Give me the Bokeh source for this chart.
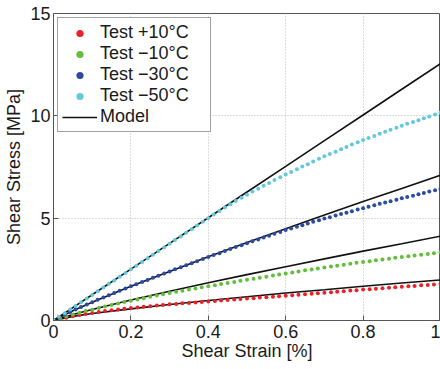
from bokeh.plotting import figure
from bokeh.models import FixedTicker, Legend, LegendItem, Range1d
from bokeh.embed import file_html
from bokeh.resources import INLINE

# ---- data ----
strain_a = [0.000, 0.014, 0.029, 0.043, 0.057, 0.071, 0.086, 0.100, 0.114, 0.129, 0.143, 0.157,
            0.171, 0.186, 0.200, 0.214, 0.229, 0.243, 0.257, 0.271, 0.286, 0.300, 0.314, 0.329,
            0.343, 0.357, 0.371, 0.386, 0.400, 0.414, 0.429, 0.443, 0.457, 0.471, 0.486, 0.500,
            0.514, 0.529, 0.543, 0.557, 0.571, 0.586, 0.600, 0.614, 0.629, 0.643, 0.657, 0.671,
            0.686, 0.700, 0.714, 0.729, 0.743, 0.757, 0.771, 0.786, 0.800, 0.814, 0.829, 0.843,
            0.857, 0.871, 0.886, 0.900, 0.914, 0.929, 0.943, 0.957, 0.971, 0.986, 1.000]
stress_m50 = [0.00, 0.18, 0.36, 0.54, 0.71, 0.89, 1.07, 1.25, 1.43, 1.61, 1.79, 1.96,
              2.14, 2.32, 2.50, 2.68, 2.86, 3.04, 3.21, 3.39, 3.57, 3.75, 3.93, 4.11,
              4.29, 4.46, 4.64, 4.82, 5.00, 5.18, 5.35, 5.52, 5.68, 5.84, 6.00, 6.15,
              6.30, 6.44, 6.58, 6.72, 6.86, 7.00, 7.13, 7.26, 7.39, 7.52, 7.64, 7.77,
              7.90, 8.02, 8.14, 8.25, 8.37, 8.48, 8.60, 8.71, 8.82, 8.92, 9.02, 9.12,
              9.22, 9.32, 9.42, 9.52, 9.61, 9.70, 9.79, 9.88, 9.97, 10.06, 10.15]
stress_m30 = [0.00, 0.16, 0.29, 0.42, 0.54, 0.66, 0.78, 0.89, 1.01, 1.12, 1.23, 1.34,
              1.45, 1.56, 1.67, 1.77, 1.88, 1.98, 2.09, 2.19, 2.30, 2.40, 2.50, 2.60,
              2.70, 2.80, 2.90, 3.00, 3.10, 3.20, 3.29, 3.39, 3.49, 3.59, 3.68, 3.78,
              3.87, 3.96, 4.05, 4.14, 4.24, 4.33, 4.42, 4.50, 4.58, 4.66, 4.74, 4.82,
              4.90, 4.98, 5.05, 5.13, 5.20, 5.27, 5.34, 5.42, 5.49, 5.56, 5.63, 5.70,
              5.76, 5.83, 5.90, 5.97, 6.04, 6.10, 6.17, 6.23, 6.30, 6.36, 6.43]
strain_b = [0.000, 0.017, 0.033, 0.050, 0.067, 0.083, 0.100, 0.117, 0.133, 0.150, 0.167, 0.183,
            0.200, 0.217, 0.233, 0.250, 0.267, 0.283, 0.300, 0.317, 0.333, 0.350, 0.367, 0.383,
            0.400, 0.417, 0.433, 0.450, 0.467, 0.483, 0.500, 0.517, 0.533, 0.550, 0.567, 0.583,
            0.600, 0.617, 0.633, 0.650, 0.667, 0.683, 0.700, 0.717, 0.733, 0.750, 0.767, 0.783,
            0.800, 0.817, 0.833, 0.850, 0.867, 0.883, 0.900, 0.917, 0.933, 0.950, 0.967, 0.983,
            1.000]
stress_m10 = [0.00, 0.11, 0.21, 0.29, 0.38, 0.46, 0.53, 0.61, 0.69, 0.76, 0.83, 0.90,
              0.97, 1.03, 1.09, 1.16, 1.22, 1.28, 1.34, 1.40, 1.45, 1.51, 1.56, 1.62,
              1.67, 1.72, 1.78, 1.83, 1.88, 1.94, 1.99, 2.04, 2.09, 2.14, 2.20, 2.25,
              2.30, 2.35, 2.40, 2.45, 2.49, 2.54, 2.59, 2.64, 2.68, 2.73, 2.77, 2.82,
              2.86, 2.90, 2.94, 2.98, 3.02, 3.06, 3.10, 3.14, 3.18, 3.21, 3.25, 3.29,
              3.33]
stress_p10 = [0.00, 0.07, 0.14, 0.21, 0.27, 0.32, 0.37, 0.42, 0.46, 0.50, 0.54, 0.58,
              0.61, 0.64, 0.67, 0.70, 0.73, 0.76, 0.79, 0.81, 0.84, 0.86, 0.88, 0.91,
              0.93, 0.95, 0.98, 1.00, 1.02, 1.05, 1.07, 1.09, 1.12, 1.14, 1.16, 1.19,
              1.21, 1.23, 1.26, 1.28, 1.31, 1.33, 1.36, 1.38, 1.41, 1.43, 1.46, 1.48,
              1.51, 1.53, 1.55, 1.58, 1.60, 1.62, 1.65, 1.67, 1.69, 1.72, 1.74, 1.76,
              1.79]
model_strain = [0, 0.05, 0.1, 0.2, 0.3, 0.4, 0.5, 0.6, 0.7, 0.8, 0.9, 1.0]
model_m50 = [0, 0.63, 1.26, 2.51, 3.77, 5.02, 6.28, 7.53, 8.79, 10.04, 11.30, 12.55]
model_m30 = [0, 0.48, 0.89, 1.67, 2.40, 3.11, 3.81, 4.48, 5.15, 5.81, 6.45, 7.10]
model_m10 = [0, 0.29, 0.54, 1.00, 1.43, 1.84, 2.24, 2.63, 3.01, 3.39, 3.75, 4.12]
model_p10 = [0, 0.20, 0.34, 0.57, 0.78, 0.98, 1.16, 1.34, 1.50, 1.67, 1.83, 1.98]

series_labels = ["Test +10\u00b0C", "Test \u221210\u00b0C", "Test \u221230\u00b0C", "Test \u221250\u00b0C"]
model_label = "Model"
x_ticks = [0, 0.2, 0.4, 0.6, 0.8, 1]
x_tick_labels = ["0", "0.2", "0.4", "0.6", "0.8", "1"]
y_ticks = [0, 5, 10, 15]
y_tick_labels = ["0", "5", "10", "15"]
x_title = "Shear Strain [%]"
y_title = "Shear Stress [MPa]"

FONT = "Liberation Sans"
FS = "18px"

p = figure(width=440, height=369, output_backend="svg", toolbar_location=None,
           x_range=Range1d(0, 1), y_range=Range1d(0, 15),
           min_border_left=53, min_border_right=0, min_border_top=13, min_border_bottom=49)
p.background_fill_color = "white"
p.border_fill_color = "white"
p.outline_line_color = "#555555"
p.outline_line_width = 1

for ax, ticks, labels in ((p.xaxis, x_ticks, x_tick_labels), (p.yaxis, y_ticks, y_tick_labels)):
    ax.ticker = FixedTicker(ticks=ticks)
    ax.major_label_overrides = {t: l for t, l in zip(ticks, labels)}
    ax.major_tick_in = 5
    ax.major_tick_out = 0
    ax.minor_tick_in = 0
    ax.minor_tick_out = 0
    ax.axis_line_color = "#555555"
    ax.major_tick_line_color = "#555555"
    ax.major_label_text_font = FONT
    ax.major_label_text_font_size = FS
    ax.major_label_text_color = "#1a1a1a"
    ax.axis_label_text_font = FONT
    ax.axis_label_text_font_size = FS
    ax.axis_label_text_font_style = "normal"
    ax.axis_label_text_color = "#1a1a1a"

p.xaxis.axis_label = x_title
p.yaxis.axis_label = y_title
p.xaxis.major_label_standoff = 4
p.xaxis.axis_label_standoff = 0
p.yaxis.major_label_standoff = 3
p.yaxis.axis_label_standoff = 3

for g in (p.xgrid, p.ygrid):
    g.grid_line_color = "#b8b8b8"
    g.grid_line_dash = "1 2"
    g.grid_line_width = 1

# model lines
model_renderers = []
for ys in (model_m50, model_m30, model_m10, model_p10):
    r = p.line(model_strain, ys, line_color="#111111", line_width=1.6)
    model_renderers.append(r)

colors = ["#ee2027", "#63be3c", "#2b4aa3", "#62c9dd"]
data = [(strain_b, stress_p10), (strain_b, stress_m10), (strain_a, stress_m30), (strain_a, stress_m50)]
test_renderers = []
for (xs, ys), c in zip(data, colors):
    r = p.scatter(xs, ys, size=4, fill_color=c, line_color=None)
    test_renderers.append(r)

items = [LegendItem(label=lab, renderers=[r]) for lab, r in zip(series_labels, test_renderers)]
items.append(LegendItem(label=model_label, renderers=[model_renderers[0]]))
legend = Legend(items=items, location="top_left", margin=4,
                padding=4, spacing=0, glyph_width=35, glyph_height=18, label_height=18,
                label_standoff=3, label_width=106,
                label_text_font=FONT, label_text_font_size=FS, label_text_color="#1a1a1a",
                border_line_color="#444444", border_line_width=1,
                background_fill_color="white", background_fill_alpha=1)
p.add_layout(legend)

open("out.html", "w").write(file_html(p, INLINE))
